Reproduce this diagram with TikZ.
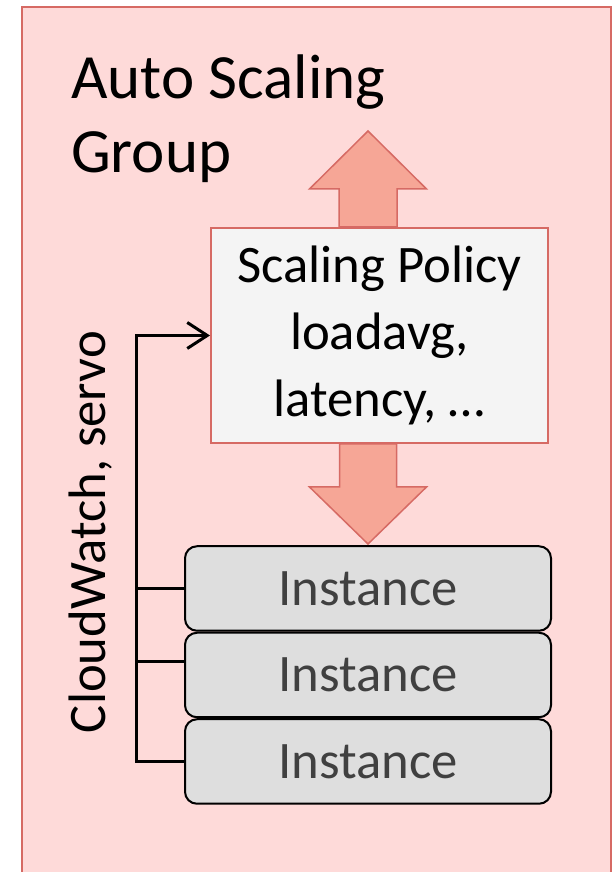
\documentclass[tikz,border=0pt]{standalone}
\usepackage{fontspec}
\setmainfont{Carlito}
\usetikzlibrary{arrows.meta, positioning}
\definecolor{groupfill}{RGB}{254,218,217}
\definecolor{groupline}{RGB}{214,106,100}
\definecolor{arrowfill}{RGB}{246,166,150}
\definecolor{policyfill}{RGB}{244,244,244}
\definecolor{instfill}{RGB}{222,222,222}
\definecolor{insttext}{RGB}{64,64,64}

\begin{document}
\begin{tikzpicture}[x=1pt, y=1pt,
		titlefont/.style={font=\fontsize{63}{74}\selectfont},
		bodyfont/.style={font=\fontsize{52.7}{67}\selectfont},
		policybox/.style={draw=groupline, line width=2pt, fill=policyfill, minimum width=337pt, minimum height=215pt, align=center, bodyfont},
		instbox/.style={draw=black, line width=2pt, fill=instfill, rounded corners=12pt, minimum width=366pt, minimum height=84.5pt, text=insttext, bodyfont},
		fatarrow/.style={draw=groupline, line width=1.5pt, fill=arrowfill, line join=miter},
		feedback/.style={line width=3pt}]
		\useasboundingbox (0,0) rectangle (614,872);
		\draw [groupline, line width=2pt, fill=groupfill] (22,865) rectangle (611,-20);
		\node [titlefont, align=left, anchor=base west, inner sep=0pt] (title) at (71,699) {Auto Scaling\\Group};
		\node [policybox] (policy) at (379.5,536.5) {Scaling Policy\\loadavg,\\latency, …};
		\node [instbox] (inst1) at (368,283.5) {Instance};
		\node [instbox, below=0pt of inst1] (inst2) {Instance};
		\node [instbox, below=0pt of inst2] (inst3) {Instance};
		\path (inst1.north |- policy.north) coordinate (upbase);
		\path (inst1.north |- policy.south) coordinate (downbase);
		\draw [fatarrow] ([xshift=-29pt]upbase) -- ++(0,38) -- ++(-29.5,0) -- ++(58.5,58) -- ++(58.5,-58) -- ++(-29.5,0) -- ([xshift=29pt]upbase) -- cycle;
		\draw [fatarrow] ([xshift=-28.5pt]downbase) -- ++(0,-43) -- ++(-30,0) -- ++(58.5,-57) -- ++(58.5,57) -- ++(-30,0) -- ([xshift=28.5pt]downbase) -- cycle;
		\node [bodyfont, rotate=90, anchor=base, inner sep=0pt] (cw) at (105,340) {CloudWatch, servo};
		\draw [feedback] (inst1.west) -- ++(-48,0);
		\draw [feedback] ([yshift=13pt]inst2.west) -- ++(-48,0);
		\draw [feedback, -{Straight Barb[length=20pt, width=26pt]}] (inst3.west) -- ++(-48,0) |- (policy.west);
	\end{tikzpicture}
\end{document}
